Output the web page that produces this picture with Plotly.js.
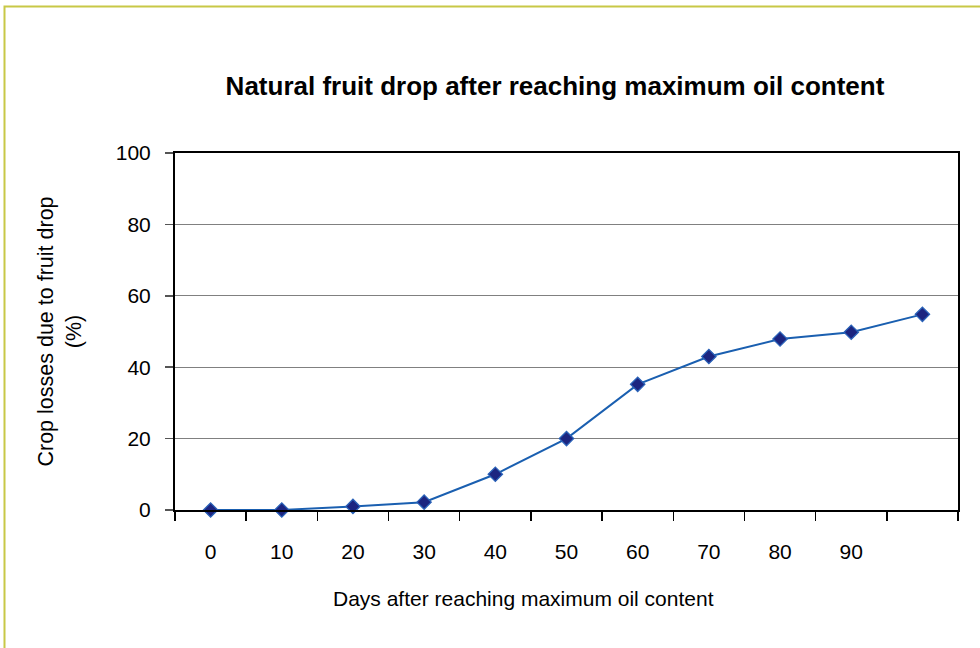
<!DOCTYPE html>
<html>
<head>
<meta charset="utf-8">
<script src="https://cdn.plot.ly/plotly-3.0.1.min.js"></script>
<style>
  html, body { margin: 0; padding: 0; background: #ffffff; }
  #chart { width: 980px; height: 648px; }
</style>
</head>
<body>
<div id="chart"></div>
<script>
// Data
const days = ['0', '10', '20', '30', '40', '50', '60', '70', '80', '90', '100'];
const dayLabels = ['0', '10', '20', '30', '40', '50', '60', '70', '80', '90', ''];
const cropLosses = [0, 0, 1, 2.2, 10, 20, 35.2, 43, 47.9, 49.8, 54.8];
const yTicks = [0, 20, 40, 60, 80, 100];

const FONT = 'Arial, "Liberation Sans", sans-serif';

const trace = {
  type: 'scatter',
  mode: 'lines+markers',
  x: days,
  y: cropLosses,
  line: { color: '#1a5fb0', width: 2 },
  marker: {
    symbol: 'diamond',
    size: 11,
    color: '#1c2580',
    line: { color: '#2a62b8', width: 1.3 }
  },
  cliponaxis: false,
  showlegend: false,
  hoverinfo: 'x+y'
};

const layout = {
  width: 980,
  height: 648,
  paper_bgcolor: '#ffffff',
  plot_bgcolor: '#ffffff',
  margin: { l: 175, r: 22, t: 153, b: 138 },
  font: { family: FONT, size: 21, color: '#000000' },
  title: {
    text: 'Natural fruit drop after reaching maximum oil content',
    font: { family: FONT, size: 26, weight: 700, color: '#000000' },
    x: 555 / 980,
    xanchor: 'center',
    xref: 'container',
    y: 1 - 86 / 648,
    yanchor: 'middle',
    yref: 'container'
  },
  xaxis: {
    type: 'category',
    categoryorder: 'array',
    categoryarray: days,
    tickmode: 'array',
    tickvals: days,
    ticktext: dayLabels,
    tickson: 'boundaries',
    ticks: 'outside',
    ticklen: 9,
    tickwidth: 1.5,
    tickcolor: '#000000',
    ticklabelstandoff: 22,
    showgrid: false,
    zeroline: false,
    showline: true,
    linecolor: '#000000',
    linewidth: 2,
    mirror: true,
    tickfont: { family: FONT, size: 21, color: '#000000' },
    range: [-0.5, 10.5],
    fixedrange: true
  },
  yaxis: {
    range: [0, 100],
    tickmode: 'array',
    tickvals: yTicks,
    ticktext: yTicks.map(String),
    ticks: 'outside',
    ticklen: 8,
    tickwidth: 1.5,
    tickcolor: '#555555',
    ticklabelstandoff: 10,
    showgrid: true,
    gridcolor: '#808080',
    gridwidth: 1.2,
    zeroline: false,
    showline: true,
    linecolor: '#000000',
    linewidth: 2,
    mirror: true,
    tickfont: { family: FONT, size: 21, color: '#000000' },
    title: {
      text: 'Crop losses due to fruit drop<br>(%)',
      font: { family: FONT, size: 21.5, color: '#000000' },
      standoff: 28
    },
    automargin: false,
    fixedrange: true
  },
  annotations: [
    {
      text: 'Days after reaching maximum oil content',
      xref: 'paper', yref: 'paper',
      x: (523 - 175) / 783,
      y: -(598 - 510) / 357,
      xanchor: 'center', yanchor: 'middle',
      showarrow: false,
      font: { family: FONT, size: 21, color: '#000000' }
    }
  ],
  shapes: [
    {
      type: 'rect',
      xref: 'paper', yref: 'paper',
      x0: (4.5 - 175) / 783,
      x1: (1000 - 175) / 783,
      y0: -(700 - 510) / 357,
      y1: (510 - 6.5) / 357,
      line: { color: '#c8c846', width: 2 },
      fillcolor: 'rgba(0,0,0,0)',
      layer: 'below'
    }
  ]
};

Plotly.newPlot('chart', [trace], layout, { displayModeBar: false, staticPlot: true });
</script>
</body>
</html>
